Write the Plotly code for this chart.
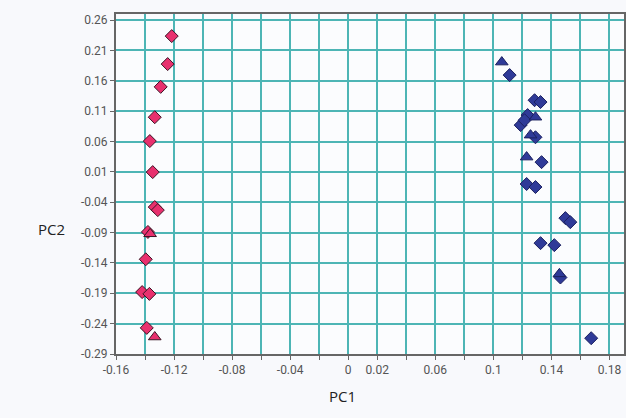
import plotly.graph_objects as go

# PCA scores, group A (pink) and group B (blue)
a_diamond_x = [-0.1216, -0.1244, -0.1292, -0.1333, -0.1367, -0.1347, -0.1333, -0.1312,
               -0.1380, -0.1395, -0.1420, -0.1370, -0.1388]
a_diamond_y = [0.2336, 0.1875, 0.1500, 0.1000, 0.0607, 0.0096, -0.0480, -0.0530,
               -0.0890, -0.1340, -0.1880, -0.1910, -0.2470]
a_triangle_x = [-0.1365, -0.1333]
a_triangle_y = [-0.0920, -0.2620]

b_diamond_x = [0.1112, 0.1284, 0.1325, 0.1236, 0.1188, 0.1215, 0.1290, 0.1332,
               0.1229, 0.1290, 0.1496, 0.1530, 0.1325, 0.1420, 0.1462, 0.1674]
b_diamond_y = [0.1694, 0.1280, 0.1250, 0.1035, 0.0870, 0.0950, 0.0670, 0.0260,
               -0.0100, -0.0150, -0.0662, -0.0728, -0.1074, -0.1107, -0.1640, -0.2640]
b_triangle_x = [0.1058, 0.1290, 0.1256, 0.1229, 0.1455]
b_triangle_y = [0.1908, 0.1000, 0.0705, 0.0343, -0.1580]

x_tick_vals = [-0.16, -0.14, -0.12, -0.10, -0.08, -0.06, -0.04, -0.02, 0.0,
               0.02, 0.04, 0.06, 0.08, 0.10, 0.12, 0.14, 0.16, 0.18]
x_tick_text = ["-0.16", "", "-0.12", "", "-0.08", "", "-0.04", "", "0",
               "0.02", "", "0.06", "", "0.1", "", "0.14", "", "0.18"]
y_tick_vals = [0.26, 0.21, 0.16, 0.11, 0.06, 0.01, -0.04, -0.09, -0.14, -0.19, -0.24, -0.29]
y_tick_text = ["0.26", "0.21", "0.16", "0.11", "0.06", "0.01", "-0.04", "-0.09",
               "-0.14", "-0.19", "-0.24", "-0.29"]

PINK = "#E8306E"
PINK_EDGE = "#3B1424"
BLUE = "#2F3A98"
BLUE_EDGE = "#1C2160"

fig = go.Figure()
fig.add_trace(go.Scatter(x=a_diamond_x, y=a_diamond_y, mode="markers",
                         marker=dict(symbol="diamond", size=10, color=PINK,
                                     line=dict(color=PINK_EDGE, width=1))))
fig.add_trace(go.Scatter(x=a_triangle_x, y=a_triangle_y, mode="markers",
                         marker=dict(symbol="triangle-up", size=11, color=PINK,
                                     line=dict(color=PINK_EDGE, width=1))))
fig.add_trace(go.Scatter(x=b_diamond_x, y=b_diamond_y, mode="markers",
                         marker=dict(symbol="diamond", size=10, color=BLUE,
                                     line=dict(color=BLUE_EDGE, width=1))))
fig.add_trace(go.Scatter(x=b_triangle_x, y=b_triangle_y, mode="markers",
                         marker=dict(symbol="triangle-up", size=11, color=BLUE,
                                     line=dict(color=BLUE_EDGE, width=1))))

GRID = "#4DB5B5"
TICK_FONT = dict(family="Roboto, sans-serif", size=12, color="#555555")

fig.update_xaxes(range=[-0.16, 0.19], tickvals=x_tick_vals, ticktext=x_tick_text,
                 showgrid=True, gridcolor=GRID, gridwidth=2, zeroline=False,
                 showline=True, linecolor="#666666", linewidth=2, mirror=True,
                 ticks="outside", ticklen=4, tickcolor="#666666",
                 tickfont=TICK_FONT)
fig.update_yaxes(range=[-0.29, 0.27], tickvals=y_tick_vals, ticktext=y_tick_text,
                 showgrid=True, gridcolor=GRID, gridwidth=2, zeroline=False,
                 showline=True, linecolor="#666666", linewidth=2, mirror=True,
                 ticks="outside", ticklen=4, tickcolor="#666666",
                 tickfont=TICK_FONT)

fig.add_annotation(text="PC2", xref="paper", yref="paper", x=-0.157, y=0.332,
                   showarrow=False, font=dict(family="Open Sans, sans-serif", size=15, color="#222222"))
fig.add_annotation(text="PC1", xref="paper", yref="paper", x=0.445, y=-0.159,
                   showarrow=False, font=dict(family="Open Sans, sans-serif", size=15, color="#222222"))

fig.update_layout(width=626, height=418, showlegend=False,
                  margin=dict(l=116, r=0, t=14, b=64),
                  paper_bgcolor="#F8F9FC", plot_bgcolor="#FBFCFE")

fig.write_html("out.html")
